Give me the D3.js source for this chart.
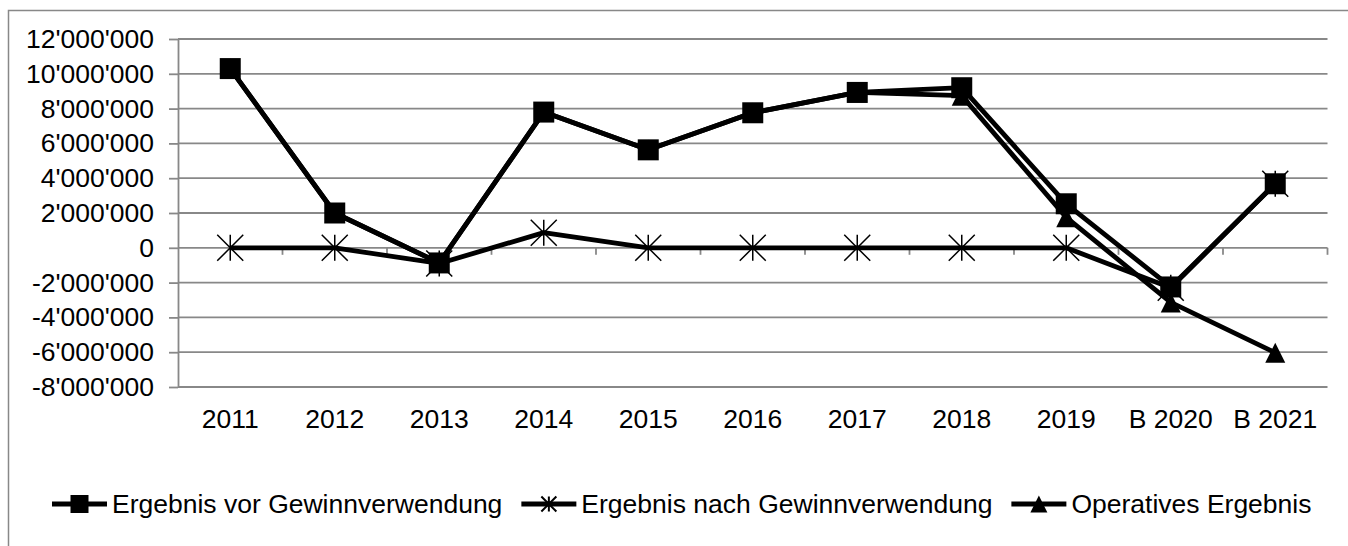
<!DOCTYPE html>
<html>
<head>
<meta charset="utf-8">
<script src="https://cdn.jsdelivr.net/npm/d3@7"></script>
<style>
  body { margin: 0; background: #fff; }
  svg { display: block; font-family: "Liberation Sans", Arial, sans-serif; }
</style>
</head>
<body>
<script>
// Data
const categories = ["2011", "2012", "2013", "2014", "2015", "2016", "2017", "2018", "2019", "B 2020", "B 2021"];
const vorGewinn = [10300000, 2000000, -870000, 7800000, 5630000, 7760000, 8930000, 9200000, 2530000, -2250000, 3680000];
const nachGewinn = [0, 0, -900000, 870000, 0, 0, 0, 0, 0, -2300000, 3680000];
const operativ = [10300000, 2000000, -870000, 7800000, 5630000, 7760000, 8930000, 8740000, 1750000, -3140000, -6030000];
const yTicks = [-8000000, -6000000, -4000000, -2000000, 0, 2000000, 4000000, 6000000, 8000000, 10000000, 12000000];
const seriesNames = ["Ergebnis vor Gewinnverwendung", "Ergebnis nach Gewinnverwendung", "Operatives Ergebnis"];

const width = 1348, height = 546;
const margin = { top: 39, right: 20.5, bottom: 159, left: 178 };
const fontSize = 26.5;
const gridColor = "#888888";

// custom Excel-like markers
const triangle = {
  draw(ctx, size) {
    const r = Math.sqrt(size) / 2;
    ctx.moveTo(0, -r); ctx.lineTo(r, r); ctx.lineTo(-r, r); ctx.closePath();
  }
};
const star = {
  draw(ctx, size) {
    const r = Math.sqrt(size) / 2;
    ctx.moveTo(-r, -r); ctx.lineTo(r, r);
    ctx.moveTo(r, -r); ctx.lineTo(-r, r);
    ctx.moveTo(0, -r); ctx.lineTo(0, r);
  }
};

const series = [
  { name: seriesNames[0], values: vorGewinn, type: d3.symbolSquare, size: 21 * 21, legendSize: 18 * 18, filled: true },
  { name: seriesNames[1], values: nachGewinn, type: star, size: 26 * 26, legendSize: 15 * 15, filled: false },
  { name: seriesNames[2], values: operativ, type: triangle, size: 20 * 20, legendSize: 17 * 17, filled: true },
];

const locale = d3.formatLocale({ decimal: ".", thousands: "'", grouping: [3], currency: ["", ""], minus: "-" });
const fmt = locale.format(",");

const x = d3.scaleBand().domain(categories).range([margin.left, width - margin.right]).padding(0);
const y = d3.scaleLinear().domain([-8000000, 12000000]).range([height - margin.bottom, margin.top]);

const svg = d3.select("body").append("svg")
  .attr("width", width)
  .attr("height", height)
  .attr("viewBox", [0, 0, width, height]);

// outer chart frame (right and bottom edges fall outside the picture)
svg.append("rect")
  .attr("x", 8.5).attr("y", 10.5)
  .attr("width", width + 50).attr("height", height + 50)
  .attr("fill", "none")
  .attr("stroke", gridColor)
  .attr("stroke-width", 1.5);

// horizontal gridlines
svg.append("g")
  .selectAll("line")
  .data(yTicks)
  .join("line")
  .attr("x1", margin.left)
  .attr("x2", width - margin.right)
  .attr("y1", (d) => y(d))
  .attr("y2", (d) => y(d))
  .attr("stroke", gridColor)
  .attr("stroke-width", 1.8);

// y axis
svg.append("g")
  .attr("transform", `translate(${margin.left},0)`)
  .call(d3.axisLeft(y).tickValues(yTicks).tickFormat(fmt).tickSize(9).tickSizeOuter(0).tickPadding(15))
  .call((g) => g.select(".domain").attr("stroke", gridColor).attr("stroke-width", 1.8))
  .call((g) => g.selectAll(".tick line").attr("stroke", gridColor).attr("stroke-width", 1.8))
  .call((g) => g.selectAll("text").attr("font-size", fontSize).attr("font-family", null).attr("fill", "#000"));

// category tick marks on the zero line
svg.append("g")
  .selectAll("line")
  .data(categories.slice(1).concat(["__end"]))
  .join("line")
  .attr("x1", (d, i) => x(categories[0]) + (i + 1) * x.step())
  .attr("x2", (d, i) => x(categories[0]) + (i + 1) * x.step())
  .attr("y1", y(0))
  .attr("y2", y(0) + 7)
  .attr("stroke", gridColor)
  .attr("stroke-width", 1.8);

// category labels below the plot
svg.append("g")
  .attr("transform", `translate(0,${height - margin.bottom})`)
  .call(d3.axisBottom(x).tickSize(0).tickPadding(22))
  .call((g) => g.select(".domain").remove())
  .call((g) => g.selectAll("text").attr("font-size", fontSize).attr("font-family", null).attr("fill", "#000"));

const line = d3.line()
  .x((d, i) => x(categories[i]) + x.bandwidth() / 2)
  .y((d) => y(d));

// lines and markers, in Excel drawing order
series.forEach((s) => {
  const g = svg.append("g");
  g.append("path")
    .attr("d", line(s.values))
    .attr("fill", "none")
    .attr("stroke", "#000")
    .attr("stroke-width", 4.8)
    .attr("stroke-linejoin", "round");
  g.selectAll("path.marker")
    .data(s.values)
    .join("path")
    .attr("class", "marker")
    .attr("transform", (d, i) => `translate(${x(categories[i]) + x.bandwidth() / 2},${y(d)})`)
    .attr("d", d3.symbol().type(s.type).size(s.size))
    .attr("fill", s.filled ? "#000" : "none")
    .attr("stroke", "#000")
    .attr("stroke-width", s.filled ? 0 : 1.5);
});

// legend
const legend = svg.append("g").attr("font-size", fontSize);
let lx = 52;
const ly = 504;
series.forEach((s) => {
  const item = legend.append("g").attr("transform", `translate(${lx},${ly})`);
  item.append("line")
    .attr("x1", 0).attr("x2", 55)
    .attr("stroke", "#000").attr("stroke-width", 4.8);
  item.append("path")
    .attr("transform", "translate(27.5,0)")
    .attr("d", d3.symbol().type(s.type).size(s.legendSize))
    .attr("fill", s.filled ? "#000" : "none")
    .attr("stroke", "#000")
    .attr("stroke-width", s.filled ? 0 : 2);
  const t = item.append("text")
    .attr("x", 60)
    .attr("y", 0)
    .attr("dy", "0.35em")
    .attr("fill", "#000")
    .text(s.name);
  lx += 60 + t.node().getComputedTextLength() + 19;
});
</script>
</body>
</html>
